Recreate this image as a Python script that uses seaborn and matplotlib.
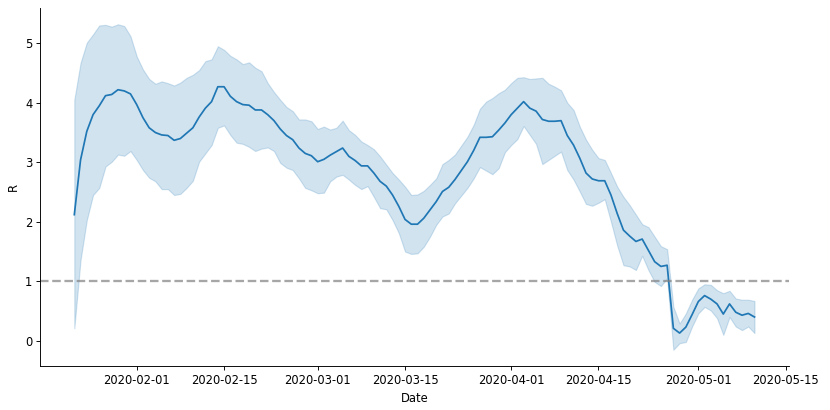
import numpy as np
import pandas as pd
import matplotlib
matplotlib.use("Agg")
import matplotlib.pyplot as plt
import matplotlib.dates as mdates
import seaborn as sns

# daily R estimate, 2020-01-22 .. 2020-05-10
dates = pd.date_range("2020-01-22", "2020-05-10", freq="D")

r_mean = [
    2.12, 3.04, 3.52, 3.80, 3.95, 4.12, 4.14, 4.22, 4.20, 4.15,
    3.97, 3.75, 3.58, 3.50, 3.46, 3.45, 3.37, 3.40, 3.49, 3.58,
    3.76, 3.91, 4.02, 4.27, 4.27, 4.11, 4.02, 3.97, 3.96, 3.88,
    3.88, 3.80, 3.70, 3.56, 3.45, 3.38, 3.24, 3.15, 3.11, 3.01,
    3.05, 3.12, 3.18, 3.24, 3.10, 3.03, 2.94, 2.94, 2.82, 2.68,
    2.60, 2.45, 2.26, 2.04, 1.96, 1.96, 2.06, 2.20, 2.34, 2.51,
    2.58, 2.71, 2.86, 3.01, 3.20, 3.42, 3.42, 3.43, 3.54, 3.66,
    3.80, 3.91, 4.02, 3.91, 3.86, 3.72, 3.69, 3.69, 3.70, 3.45,
    3.29, 3.07, 2.82, 2.72, 2.69, 2.69, 2.45, 2.14, 1.86, 1.76,
    1.67, 1.71, 1.52, 1.33, 1.25, 1.27, 0.21, 0.13, 0.23, 0.44,
    0.66, 0.76, 0.70, 0.62, 0.45, 0.62, 0.48, 0.43, 0.46, 0.40,
]

r_upper = [
    4.05, 4.67, 5.01, 5.15, 5.30, 5.31, 5.28, 5.32, 5.29, 5.12,
    4.78, 4.56, 4.40, 4.32, 4.36, 4.33, 4.29, 4.34, 4.42, 4.47,
    4.55, 4.70, 4.73, 4.95, 4.89, 4.79, 4.73, 4.65, 4.68, 4.59,
    4.53, 4.33, 4.18, 4.05, 3.93, 3.86, 3.72, 3.72, 3.69, 3.56,
    3.60, 3.55, 3.58, 3.70, 3.54, 3.46, 3.35, 3.29, 3.22, 3.10,
    2.96, 2.82, 2.71, 2.59, 2.45, 2.46, 2.52, 2.62, 2.73, 2.97,
    3.04, 3.13, 3.28, 3.43, 3.63, 3.90, 4.02, 4.08, 4.16, 4.22,
    4.33, 4.42, 4.43, 4.40, 4.41, 4.42, 4.32, 4.27, 4.21, 4.00,
    3.88, 3.60, 3.38, 3.21, 3.07, 3.04, 2.82, 2.59, 2.42, 2.28,
    2.12, 1.96, 1.91, 1.75, 1.59, 1.54, 0.57, 0.29, 0.46, 0.69,
    0.88, 0.95, 0.94, 0.85, 0.80, 0.84, 0.71, 0.69, 0.69, 0.67,
]

r_lower = [
    0.21, 1.36, 2.03, 2.45, 2.57, 2.93, 3.01, 3.13, 3.11, 3.19,
    3.04, 2.87, 2.74, 2.68, 2.55, 2.55, 2.45, 2.47, 2.57, 2.69,
    3.01, 3.15, 3.29, 3.58, 3.62, 3.46, 3.33, 3.31, 3.26, 3.19,
    3.23, 3.25, 3.19, 2.99, 2.91, 2.87, 2.73, 2.57, 2.53, 2.48,
    2.49, 2.68, 2.76, 2.79, 2.71, 2.62, 2.55, 2.60, 2.42, 2.23,
    2.21, 2.03, 1.81, 1.50, 1.46, 1.47, 1.58, 1.75, 1.95, 2.09,
    2.14, 2.31, 2.44, 2.57, 2.73, 2.92, 2.86, 2.80, 2.90, 3.17,
    3.29, 3.39, 3.61, 3.46, 3.31, 2.97, 3.04, 3.11, 3.18, 2.87,
    2.71, 2.51, 2.30, 2.27, 2.32, 2.38, 2.00, 1.60, 1.27, 1.25,
    1.19, 1.43, 1.19, 0.99, 0.92, 1.05, -0.15, -0.04, -0.02, 0.24,
    0.46, 0.57, 0.51, 0.38, 0.10, 0.40, 0.24, 0.18, 0.24, 0.13,
]

df = pd.DataFrame({"Date": dates, "R": r_mean, "lower": r_lower, "upper": r_upper})

fig, ax = plt.subplots(figsize=(10, 410 / 83), dpi=83)
fig.subplots_adjust(left=40.3 / 830, right=788.5 / 830, bottom=1 - 366 / 410, top=1 - 8 / 410)

sns.lineplot(data=df, x="Date", y="R", color="C0", ax=ax)
ax.fill_between(df["Date"], df["lower"], df["upper"], color="C0", alpha=0.2)
ax.axhline(1, ls="--", color="gray", alpha=0.7, lw=2)

ax.xaxis.set_major_locator(mdates.DayLocator(bymonthday=[1, 15]))
ax.xaxis.set_major_formatter(mdates.DateFormatter("%Y-%m-%d"))
ax.set_xlabel("Date")
ax.set_ylabel("R")
sns.despine(ax=ax)

plt.savefig("out.png", dpi=83)
